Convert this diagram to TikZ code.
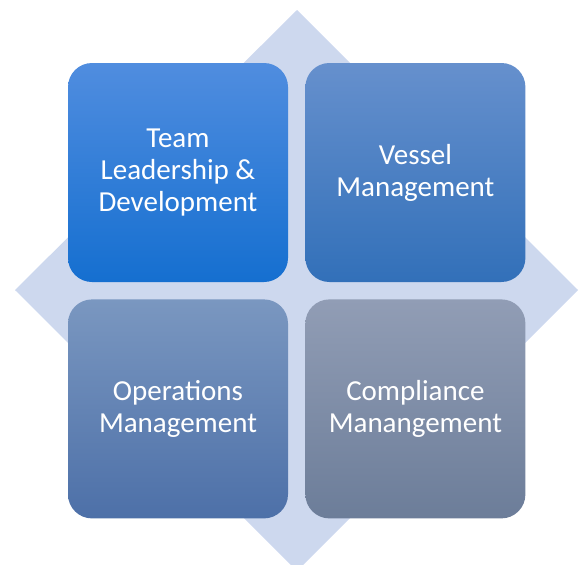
\documentclass[tikz,border=0pt]{standalone}
\usepackage{fontspec}
\setmainfont{Carlito}
\usetikzlibrary{positioning}
\definecolor{backdiamond}{RGB}{205,216,238}
\tikzset{
	tile/.style = {
		shade, rounded corners=24pt, minimum width=220pt, minimum height=219pt,
		inner sep=0pt, align=center, text=white,
		font=\fontsize{29}{32}\selectfont
	},
	teamtile/.style = {tile, top color={rgb,255:red,80;green,141;blue,223}, bottom color={rgb,255:red,21;green,111;blue,208}},
	vesseltile/.style = {tile, top color={rgb,255:red,102;green,144;blue,205}, bottom color={rgb,255:red,50;green,112;blue,185}},
	opstile/.style = {tile, top color={rgb,255:red,122;green,151;blue,192}, bottom color={rgb,255:red,77;green,112;blue,168}},
	comptile/.style = {tile, top color={rgb,255:red,145;green,157;blue,181}, bottom color={rgb,255:red,108;green,125;blue,153}}
}

\begin{document}
\begin{tikzpicture}[x=1pt, y=-1pt]
	\useasboundingbox (0,0) rectangle (584,565);
	\clip (0,0) rectangle (584,565);
	% backdrop
	\fill[backdiamond] (297,10) -- (578,290) -- (297,571) -- (15,290) -- cycle;
	% the four tiles
	\node[teamtile] (team) at (178,172.5) {Team\\Leadership \&\\Development};
	\node[vesseltile, right=17pt of team] (vessel) {Vessel\\Management};
	\node[opstile, below=17pt of team] (ops) {Operations\\Management};
	\node[comptile, below=17pt of vessel] (comp) {Compliance\\Manangement};
\end{tikzpicture}
\end{document}
